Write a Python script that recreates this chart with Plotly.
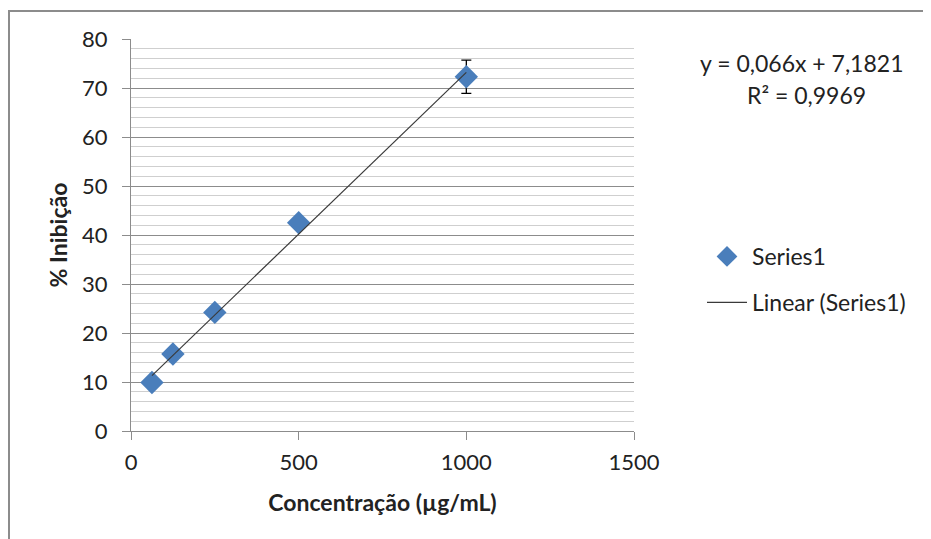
import plotly.graph_objects as go

conc = [62.5, 125, 250, 500, 1000]
inib = [9.9, 15.7, 24.2, 42.5, 72.3]
err = [0, 0, 0, 0, 3.4]
slope = 0.066
intercept = 7.1821
eq_text = "y = 0,066x + 7,1821"
r2_text = "R² = 0,9969"
x_ticks = [0, 500, 1000, 1500]

FONT = "Lato"
trend_x = [conc[0], conc[-1]]
trend_y = [slope * v + intercept for v in trend_x]

fig = go.Figure()
fig.add_trace(go.Scatter(
    x=conc, y=inib, mode="markers", name="Series1", legendgroup="a",
    marker=dict(symbol="diamond", size=18, color="#4a7ebb"),
    error_y=dict(type="data", array=err, visible=True, color="#000000",
                 thickness=1.3, width=5),
))
fig.add_trace(go.Scatter(
    x=trend_x, y=trend_y, mode="lines", name="Linear (Series1)",
    legendgroup="b",
    line=dict(color="#3a3a3a", width=1.2),
))

# figure sits 8px inside the page (body margin)
L, R, T, B = 123, 297, 31, 108
W, H = 923, 531
pw, ph = W - L - R, H - T - B

def px(xp):
    return (xp - L) / pw

def py(yp):
    return (H - B - yp) / ph

fig.update_layout(
    width=W, height=H,
    margin=dict(l=L, r=R, t=T, b=B),
    paper_bgcolor="white", plot_bgcolor="white",
    font=dict(family=FONT, size=22, color="#222222"),
    showlegend=True,
    legend=dict(x=px(694), y=py(227), xanchor="left", yanchor="top",
                font=dict(size=23, family=FONT, color="#222222"),
                itemwidth=40, tracegroupgap=13, bgcolor="rgba(0,0,0,0)"),
    xaxis=dict(range=[0, 1500], tickvals=x_ticks, showgrid=False,
               showline=True, linecolor="#8c8c8c", linewidth=1,
               ticks="outside", ticklen=8, tickcolor="#8c8c8c",
               ticklabelstandoff=4,
               zeroline=False,
               title=dict(text="<b>Concentração (µg/mL)</b>",
                          font=dict(size=23, family=FONT), standoff=20)),
    yaxis=dict(range=[0, 80], dtick=10, showgrid=True, gridcolor="#8c8c8c",
               gridwidth=1, showline=True, linecolor="#8c8c8c", linewidth=1,
               ticks="outside", ticklen=8, tickcolor="#8c8c8c",
               ticklabelstandoff=10,
               zeroline=False,
               minor=dict(dtick=2, showgrid=True, gridcolor="#cfcfcf",
                          gridwidth=1),
               title=dict(text="<b>% Inibição</b>",
                          font=dict(size=23, family=FONT), standoff=8)),
    annotations=[
        dict(x=px(793), y=py(55), xref="paper", yref="paper",
             text=eq_text, showarrow=False, xanchor="center",
             yanchor="middle", font=dict(size=23, family=FONT)),
        dict(x=px(798), y=py(87), xref="paper", yref="paper",
             text=r2_text, showarrow=False, xanchor="center",
             yanchor="middle", font=dict(size=23, family=FONT)),
    ],
    shapes=[
        dict(type="line", xref="paper", yref="paper",
             x0=px(0), x1=px(930), y0=py(3), y1=py(3),
             line=dict(color="#8c8c8c", width=2)),
        dict(type="line", xref="paper", yref="paper",
             x0=px(1), x1=px(1), y0=py(3), y1=py(540),
             line=dict(color="#8c8c8c", width=2)),
    ],
)

fig.write_html("out.html")
